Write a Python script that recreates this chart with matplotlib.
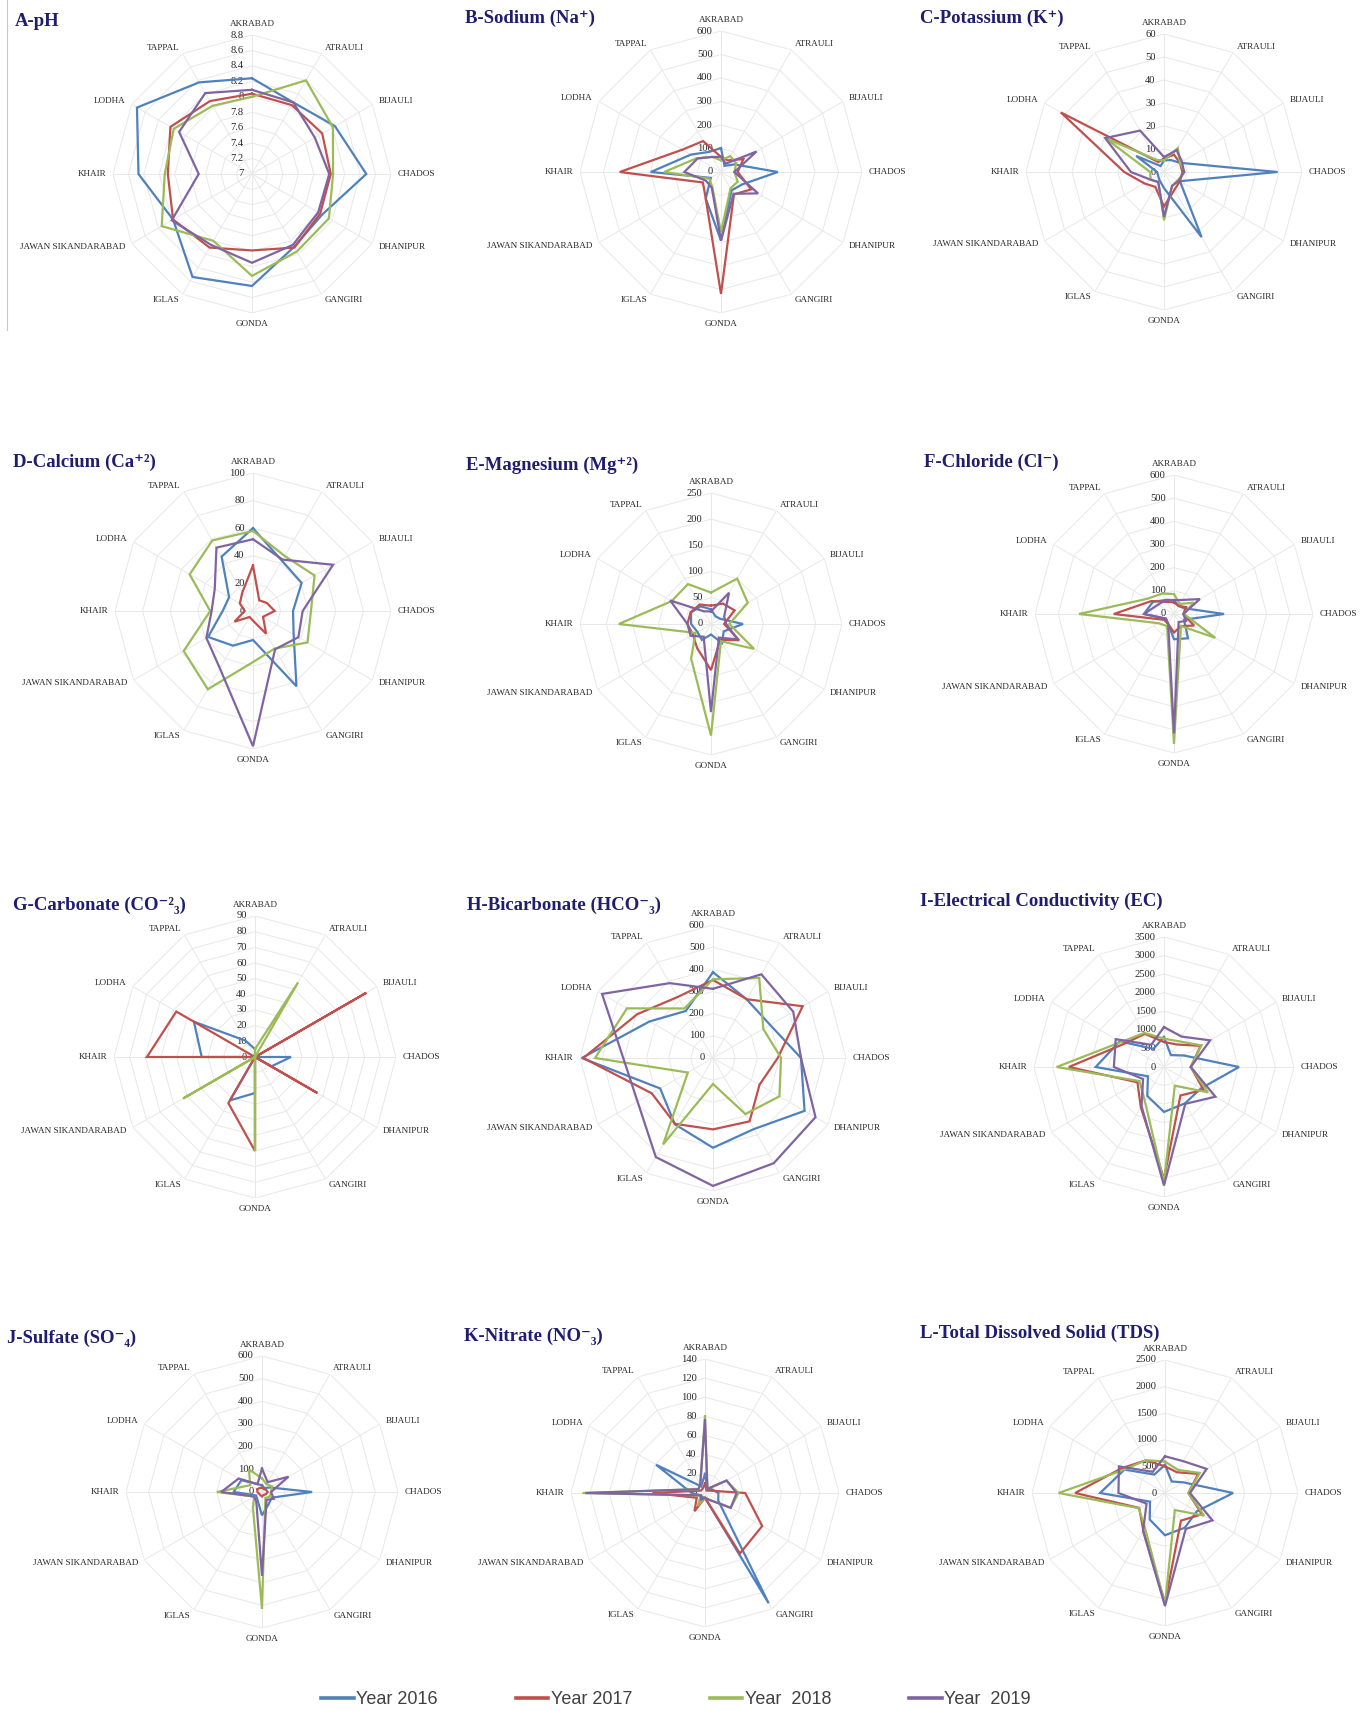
import numpy as np
import matplotlib
matplotlib.use('Agg')
import matplotlib.pyplot as plt
from matplotlib.lines import Line2D

categories = ['AKRABAD', 'ATRAULI', 'BIJAULI', 'CHADOS', 'DHANIPUR', 'GANGIRI', 'GONDA',
              'IGLAS', 'JAWAN SIKANDARABAD', 'KHAIR', 'LODHA', 'TAPPAL']
years = ['Year 2016', 'Year 2017', 'Year  2018', 'Year  2019']

# ---- data (order follows categories) ----
ph_2016 = [8.24, 8.07, 8.24, 8.48, 8.05, 8.09, 8.45, 8.54, 8.18, 8.47, 8.72, 8.37]
ph_2017 = [8.04, 8.03, 8.05, 8.02, 8.02, 8.10, 7.99, 8.10, 8.18, 8.09, 8.22, 8.09]
ph_2018 = [8.00, 8.40, 8.21, 8.05, 8.15, 8.16, 8.32, 8.00, 8.35, 8.13, 8.17, 8.02]
ph_2019 = [8.09, 8.07, 7.94, 8.00, 7.99, 8.06, 8.15, 8.06, 8.20, 7.69, 8.09, 8.21]
ph_ticks = [7, 7.2, 7.4, 7.6, 7.8, 8, 8.2, 8.4, 8.6, 8.8]

na_2016 = [102, 30, 65, 242, 105, 90, 292, 130, 50, 299, 148, 99]
na_2017 = [64, 57, 110, 71, 148, 110, 519, 130, 89, 431, 190, 152]
na_2018 = [50, 78, 75, 57, 82, 81, 256, 74, 57, 242, 118, 74]
na_2019 = [64, 41, 175, 57, 182, 107, 292, 78, 74, 156, 115, 74]
na_ticks = [0, 100, 200, 300, 400, 500, 600]

k_2016 = [5, 6, 8, 49.4, 8, 32.7, 7, 4, 3, 3, 14, 3]
k_2017 = [5.8, 8.7, 8, 8, 8, 9, 15, 7.5, 9.9, 17.3, 51.8, 5]
k_2018 = [5, 12, 8, 9, 7, 7, 21, 5, 6.7, 6, 29.5, 6]
k_2019 = [6.5, 11, 9, 8.7, 7.5, 7, 19.5, 5, 6.7, 14.4, 29.5, 20.8]
k_ticks = [0, 10, 20, 30, 40, 50, 60]

ca_2016 = [60, 42, 40.7, 29, 34, 63, 21, 29, 37.6, 22, 20, 45.5]
ca_2017 = [33, 9, 11.6, 15.7, 8.4, 19, 7, 5, 15.5, 6, 11, 15.5]
ca_2018 = [58, 46, 51.5, 42, 45.6, 31.4, 37, 65.5, 58, 31, 53, 59]
ca_2019 = [52, 43, 67, 36, 38, 32, 98, 48, 39, 30, 32, 53]
ca_ticks = [0, 20, 40, 60, 80, 100]

mg_2016 = [28, 17, 20, 61, 28, 42, 20, 35, 30, 38, 44, 39]
mg_2017 = [35, 45, 52, 25, 62, 35, 88, 53, 40, 45, 45, 43]
mg_2018 = [60, 100, 81, 35, 95, 38, 213, 76, 34, 176, 87, 88]
mg_2019 = [24, 69, 29, 29, 59, 30, 168, 28, 45, 45, 90, 28]
mg_ticks = [0, 50, 100, 150, 200, 250]

cl_2016 = [60, 40, 50, 216, 50, 121, 109, 50, 40, 130, 105, 70]
cl_2017 = [50, 40, 60, 40, 100, 60, 80, 50, 50, 260, 112, 60]
cl_2018 = [86, 50, 98, 43, 206, 60, 561, 60, 79, 410, 132, 102]
cl_2019 = [60, 70, 129, 40, 60, 40, 515, 50, 40, 130, 80, 70]
cl_ticks = [0, 100, 200, 300, 400, 500, 600]

co3_2016 = [5, 0, 0, 23, 12, 0, 23, 32, 0, 34, 45, 12]
co3_2017 = [0, 0, 82, 0, 46, 0, 60, 34, 0, 69, 58, 0]
co3_2018 = [5, 55, 0, 0, 0, 0, 60, 0, 53, 0, 0, 0]
co3_2019 = [0, 0, 0, 0, 0, 0, 0, 0, 0, 0, 0, 0]
co3_ticks = [0, 10, 20, 30, 40, 50, 60, 70, 80, 90]

hco3_2016 = [387, 305, 298, 397, 477, 370, 405, 345, 275, 592, 330, 245]
hco3_2017 = [352, 306, 467, 292, 242, 330, 322, 343, 319, 585, 395, 318]
hco3_2018 = [355, 417, 262, 307, 346, 292, 117, 450, 131, 532, 448, 258]
hco3_2019 = [312, 436, 418, 397, 534, 548, 577, 516, 393, 405, 578, 390]
hco3_ticks = [0, 100, 200, 300, 400, 500, 600]

ec_2016 = [810, 370, 620, 2020, 1150, 1130, 1210, 900, 500, 1840, 1380, 565]
ec_2017 = [673, 700, 1140, 720, 1230, 885, 3010, 1250, 825, 2560, 1245, 1030]
ec_2018 = [763, 800, 1165, 720, 1365, 580, 3115, 1040, 760, 2890, 1340, 1060]
ec_2019 = [1075, 945, 1435, 720, 1600, 1145, 3190, 1210, 650, 1350, 1500, 690]
ec_ticks = [0, 500, 1000, 1500, 2000, 2500, 3000, 3500]

so4_2016 = [30, 20, 40, 221, 50, 60, 103, 40, 30, 125, 105, 40]
so4_2017 = [20, 15, 20, 25, 20, 15, 20, 15, 15, 20, 25, 20]
so4_2018 = [60, 40, 50, 40, 40, 30, 516, 80, 40, 199, 60, 115]
so4_2019 = [103, 50, 135, 40, 60, 40, 370, 50, 40, 180, 119, 40]
so4_ticks = [0, 100, 200, 300, 400, 500, 600]

no3_2016 = [20, 5, 8, 14, 16, 133, 5, 5, 5, 14, 59, 8]
no3_2017 = [10, 3, 5, 42, 69, 73, 5, 22, 10, 55, 5, 5]
no3_2018 = [80, 5, 26, 35, 31, 8, 5, 15, 5, 128, 8, 10]
no3_2019 = [76, 5, 26, 33, 31, 8, 5, 8, 5, 125, 8, 10]
no3_ticks = [0, 20, 40, 60, 80, 100, 120, 140]

tds_2016 = [530, 250, 400, 1280, 690, 750, 795, 575, 325, 1220, 880, 400]
tds_2017 = [500, 450, 720, 440, 800, 600, 2060, 815, 560, 1690, 935, 710]
tds_2018 = [590, 500, 755, 440, 850, 370, 2090, 755, 570, 2000, 880, 713]
tds_2019 = [690, 690, 905, 470, 1030, 780, 2125, 825, 400, 875, 1000, 460]
tds_ticks = [0, 500, 1000, 1500, 2000, 2500]

# ---- styles / layout ----
colors = ['#4F81BD', '#C0504D', '#9BBB59', '#8064A2']
SERIF = ['Liberation Serif', 'DejaVu Serif']
W, H = 1363, 1711
title_color = '#1f1d6e'
label_color = '#262626'
grid_color = '#e8e8e8'

panels = [
    ('A-pH', [ph_2016, ph_2017, ph_2018, ph_2019], ph_ticks, (252, 174), 139, (15, 21)),
    ('B-Sodium (Na\u207a)', [na_2016, na_2017, na_2018, na_2019], na_ticks, (721, 172), 141, (465, 18)),
    ('C-Potassium (K\u207a)', [k_2016, k_2017, k_2018, k_2019], k_ticks, (1164, 172), 138, (920, 18)),
    ('D-Calcium (Ca\u207a\u00b2)', [ca_2016, ca_2017, ca_2018, ca_2019], ca_ticks, (253, 611), 138, (13, 462)),
    ('E-Magnesium (Mg\u207a\u00b2)', [mg_2016, mg_2017, mg_2018, mg_2019], mg_ticks, (711, 624), 131, (466, 465)),
    ('F-Chloride (Cl\u207b)', [cl_2016, cl_2017, cl_2018, cl_2019], cl_ticks, (1174, 614), 139, (924, 462)),
    ('G-Carbonate (CO\u207b\u00b2\u2083)', [co3_2016, co3_2017, co3_2018, co3_2019], co3_ticks, (255, 1057), 141, (13, 905)),
    ('H-Bicarbonate (HCO\u207b\u2083)', [hco3_2016, hco3_2017, hco3_2018, hco3_2019], hco3_ticks, (713, 1058), 133, (467, 905)),
    ('I-Electrical Conductivity (EC)', [ec_2016, ec_2017, ec_2018, ec_2019], ec_ticks, (1164, 1067), 130, (920, 901)),
    ('J-Sulfate (SO\u207b\u2084)', [so4_2016, so4_2017, so4_2018, so4_2019], so4_ticks, (262, 1492), 136, (7, 1338)),
    ('K-Nitrate (NO\u207b\u2083)', [no3_2016, no3_2017, no3_2018, no3_2019], no3_ticks, (705, 1493), 134, (464, 1336)),
    ('L-Total Dissolved Solid (TDS)', [tds_2016, tds_2017, tds_2018, tds_2019], tds_ticks, (1165, 1493), 133, (920, 1333)),
]

fig = plt.figure(figsize=(W / 100, H / 100), dpi=100)
fig.patch.set_facecolor('white')

n = len(categories)
theta = np.linspace(0, 2 * np.pi, n + 1)


def fmt(v):
    return f'{v:g}'


for title, series, ticks, (cx, cy), R, (tx, ty) in panels:
    ax = fig.add_axes([(cx - R) / W, 1 - (cy + R) / H, 2 * R / W, 2 * R / H], projection='polar')
    ax.set_theta_zero_location('N')
    ax.set_theta_direction(-1)
    rmin, rmax = ticks[0], ticks[-1]
    ax.set_ylim(rmin, rmax)
    ax.set_xticks([])
    ax.set_yticks([])
    ax.grid(False)
    ax.spines['polar'].set_visible(False)
    ax.patch.set_alpha(0)
    for v in ticks[1:]:
        ax.plot(theta, [v] * (n + 1), color=grid_color, lw=0.7, zorder=1)
    for t in theta[:-1]:
        ax.plot([t, t], [rmin, rmax], color=grid_color, lw=0.7, zorder=1)
    for v in ticks:
        ax.annotate(fmt(v), xy=(0, v), xytext=(-6, 0), textcoords='offset points',
                    ha='right', va='center', fontsize=7.6, family=SERIF,
                    color=label_color, zorder=2, annotation_clip=False)
    for vals, c in zip(series, colors):
        ax.plot(theta, list(vals) + [vals[0]], color=c, lw=1.6, zorder=3, clip_on=False,
                solid_joinstyle='miter')
    rl = rmin + 1.05 * (rmax - rmin)
    for t, name in zip(theta[:-1], categories):
        deg = round(np.degrees(t)) % 360
        if deg == 0:
            ha, va = 'center', 'bottom'
        elif deg == 180:
            ha, va = 'center', 'top'
        elif deg < 180:
            ha, va = 'left', 'center'
        else:
            ha, va = 'right', 'center'
        ax.text(t, rl, name, ha=ha, va=va, fontsize=6.6, family=SERIF,
                color=label_color, clip_on=False)
    fig.text(tx / W, 1 - ty / H, title, ha='left', va='center', fontsize=13.5,
             family=SERIF, fontweight='bold', color=title_color)

# thin frame line at the left of the first panel
fig.add_artist(Line2D([7 / W, 7 / W], [1, 1 - 330 / H], transform=fig.transFigure,
                      color='#c8c8c8', lw=0.8))

handles = [Line2D([0], [0], color=c, lw=2.6) for c in colors]
fig.legend(handles, years, loc='center', bbox_to_anchor=(676 / W, 1 - 1700 / H),
           ncol=4, frameon=False, handlelength=1.8, handletextpad=0.15,
           columnspacing=4.3, labelcolor='#404040',
           prop={'family': ['Liberation Sans', 'DejaVu Sans'], 'size': 13})

fig.savefig('out.png', dpi=100, facecolor='white')
